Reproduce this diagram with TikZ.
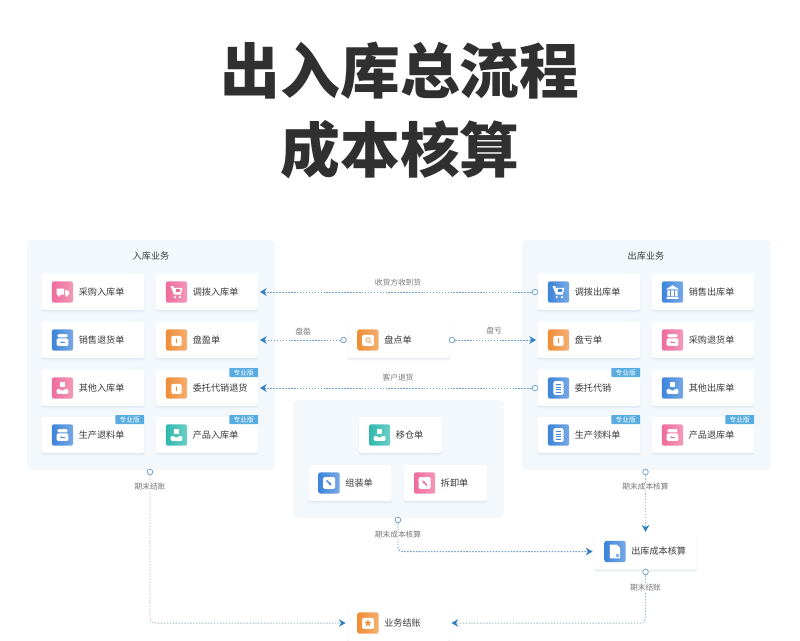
\documentclass[tikz,border=0pt]{standalone}
\usepackage{fontspec}
\setmainfont{Noto Sans CJK SC}
\usetikzlibrary{arrows.meta,shadows}
\definecolor{panelc}{HTML}{F3F8FD}
\definecolor{inkc}{HTML}{3A3A3A}
\definecolor{titlec}{HTML}{303030}
\definecolor{notec}{HTML}{777777}
\definecolor{shadowc}{HTML}{D3DEEB}
\definecolor{tagc}{HTML}{58ACDF}
\definecolor{tipc}{HTML}{2F7FC1}
\definecolor{flowc}{HTML}{6F9FC8}
\definecolor{flowd}{HTML}{A9BECB}
\definecolor{ringc}{HTML}{7FA8C9}
\definecolor{icpink}{HTML}{EE6C9A}
\definecolor{icblue}{HTML}{3D84DA}
\definecolor{icorange}{HTML}{F08D35}
\definecolor{icteal}{HTML}{2FB9AE}
\tikzset{
  panel/.style={rectangle,fill=panelc,rounded corners=.12cm,inner sep=0},
  card/.style={rectangle,fill=white,rounded corners=.06cm,inner sep=0,minimum width=2.56cm,minimum height=.9cm,
    drop shadow={shadow xshift=0pt,shadow yshift=-1.6pt,fill=shadowc,opacity=.3},
    drop shadow={shadow xshift=0pt,shadow yshift=-.8pt,fill=shadowc,opacity=.5}},
  cardsm/.style={card,minimum width=2.08cm},
  ico/.style={rectangle,rounded corners=.05cm,inner sep=0,minimum size=.53cm,left color=#1,right color=#1!70!white},
  txt/.style={inner sep=0,text=inkc,font=\fontsize{6.5}{8}\selectfont},
  note/.style={fill=white,inner sep=.5pt,text=notec,font=\fontsize{5.5}{7}\selectfont},
  protag/.style={rectangle,fill=tagc,rounded corners=.5pt,inner sep=0,minimum width=.72cm,minimum height=.225cm,text=white,font=\fontsize{4.8}{5}\selectfont},
  ring/.style={circle,draw=ringc,fill=white,line width=.6pt,inner sep=0,minimum size=.14cm},
  flow/.style={draw=flowc,line width=.7pt,dash pattern=on 1.1pt off 1pt,rounded corners=3pt,shorten >=1pt,
    -{Stealth[length=.17cm,width=.19cm,color=tipc]}},
  flowlt/.style={flow,draw=flowd},
  truck/.pic={\fill[white] (-7,-4) rectangle (2,3) (3,-2) -- (6,-2) -- (8,0) -- (8,3) -- (3,3) -- cycle;
    \fill[white] (-4,4) circle (1.6) (5,4) circle (1.6);},
  cart/.pic={\fill[white] (-7,-7) -- (-4,-7) -- (-3,-5) -- (7,-5) -- (5,3) -- (-3,3) -- cycle;
    \fill[white] (-2,6) circle (1.5) (4,6) circle (1.5);
    \fill[glc] (-1,-3) rectangle (4,0);},
  boxl/.pic={\fill[white,rounded corners=1pt] (-6,-7) rectangle (6,-3) (-7,-2) rectangle (7,7);
    \draw[glc,line width=.5pt,-{Stealth[length=.05cm]}] (3,2.5) -- (-3,2.5);},
  tray/.pic={\fill[white] (-3,-7) rectangle (3,-1);
    \fill[white,rounded corners=1pt] (-7,1) -- (-3,1) -- (-2,3) -- (2,3) -- (3,1) -- (7,1) -- (7,7) -- (-7,7) -- cycle;},
  bank/.pic={\fill[white] (-8,-3) -- (0,-8) -- (8,-3) -- cycle (-7,6) rectangle (7,8);
    \fill[white] (-6,-2) rectangle (-3,5) (-1.5,-2) rectangle (1.5,5) (3,-2) rectangle (6,5);},
  docs/.pic={\fill[white,rounded corners=1pt] (-6,-8) rectangle (6,8);
    \draw[glc,line width=.5pt] (-3,-4) -- (3,-4) (-3,-1) -- (3,-1) (-3,2) -- (3,2) (-3,5) -- (3,5);},
  page/.pic={\fill[white] (-6,-8) -- (2,-8) -- (6,-4) -- (6,8) -- (-6,8) -- cycle;
    \fill[glc!60!white] (1,3) rectangle (5,7);},
  packup/.pic={\fill[white,rounded corners=1pt] (-6,-5) rectangle (6,7);
    \draw[glc,line width=.5pt,-{Stealth[length=.05cm]}] (0,4) -- (0,-2);},
  packdn/.pic={\fill[white,rounded corners=1pt] (-6,-5) rectangle (6,7);
    \draw[glc,line width=.5pt,-{Stealth[length=.05cm]}] (0,-2) -- (0,4);},
  lens/.pic={\fill[white,rounded corners=1pt] (-7,-6) rectangle (7,7);
    \draw[glc!70!white,line width=.7pt] (0,0) circle (2.5) (2,2) -- (4,4);},
  starbox/.pic={\fill[white,rounded corners=1pt] (-7,-6) rectangle (7,7);
    \node[glc,inner sep=0,font=\fontsize{6}{6}\selectfont] (starmark) at (0,.5) {★};},
  arrse/.pic={\fill[white,rounded corners=1pt] (-7,-7) rectangle (7,7);
    \draw[glc,line width=1pt,-{Stealth[length=.08cm]}] (-3,-3) -- (3,3);},
  arrnw/.pic={\fill[white,rounded corners=1pt] (-7,-7) rectangle (7,7);
    \draw[glc,line width=1pt,-{Stealth[length=.08cm]}] (3,3) -- (-3,-3);},
}
\begin{document}
\begin{tikzpicture}[x=.025cm,y=-.025cm]
\useasboundingbox (0,0) rectangle (800,640);
% titulo
\draw (400,71) node[inner sep=0,text=titlec,font=\fontsize{42.5}{44}\selectfont\bfseries] (title) {出入库总流程};
\draw (400,150) node[inner sep=0,text=titlec,font=\fontsize{42.5}{44}\selectfont\bfseries] (subtitle) {成本核算};
% paneles
\draw (151,355) node[panel,minimum width=6.2cm,minimum height=5.75cm] (inpanel) {};
\draw (646.5,355) node[panel,minimum width=6.22cm,minimum height=5.75cm] (outpanel) {};
\draw (398.5,459) node[panel,minimum width=5.28cm,minimum height=2.95cm] (midpanel) {};
\draw (151,256) node[txt] (intitle) {入库业务};
\draw (646,256) node[txt] (outtitle) {出库业务};
% tarjetas
\foreach \nm/\cx/\cy/\st/\tx/\ic/\gl in {
  caigou/93/292/card/采购入库单/icpink/truck,
  diaoru/207/292/card/调拨入库单/icpink/cart,
  xiaotui/93/340/card/销售退货单/icblue/boxl,
  panying/207/340/card/盘盈单/icorange/packup,
  qitaru/93/388/card/其他入库单/icpink/tray,
  weitui/207/388/card/委托代销退货/icorange/packup,
  shengtui/93/435/card/生产退料单/icblue/boxl,
  chanru/207/435/card/产品入库单/icteal/tray,
  diaochu/589/292/card/调拨出库单/icblue/cart,
  xiaochu/703/292/card/销售出库单/icblue/bank,
  pankui/589/340/card/盘亏单/icorange/packdn,
  caitui/703/340/card/采购退货单/icpink/boxl,
  weituo/589/388/card/委托代销/icblue/docs,
  qitachu/703/388/card/其他出库单/icblue/tray,
  lingliao/589/435/card/生产领料单/icblue/docs,
  chantui/703/435/card/产品退库单/icpink/boxl,
  pandian/398.5/340/card/盘点单/icorange/lens,
  yicang/400.5/435/cardsm/移仓单/icteal/tray,
  zuzhuang/350/483/cardsm/组装单/icblue/arrse,
  chaixie/445.5/483/cardsm/拆卸单/icpink/arrnw,
  chengben/645.5/551.5/card/出库成本核算/icblue/page,
  jiezhang/398.5/623/card/业务结账/icorange/starbox}
{
  \colorlet{glc}{\ic}
  \draw (\cx,\cy) node[\st] (\nm) {};
  \draw (\nm.west) ++(21,0) node[ico=\ic] (\nm-i) {};
  \draw (\nm-i) pic[scale=.85] {\gl};
  \draw (\nm.west) ++(37,0) node[txt,anchor=west] (\nm-t) {\tx};
}
\foreach \nm in {weitui,shengtui,chanru,weituo,lingliao,chantui}
  \draw ([yshift=.05cm]\nm.north east) node[protag,anchor=north east] (\nm-tag) {专业版};
% conectores
\draw (535,292) node[ring] (r1) {};
\draw (535,388) node[ring] (r2) {};
\draw (343.5,340) node[ring] (r3) {};
\draw (452,340) node[ring] (r4) {};
\draw (150,472) node[ring] (r5) {};
\draw (645.5,472) node[ring] (r6) {};
\draw (398,520) node[ring] (r7) {};
\draw (645.5,572) node[ring] (r8) {};
\draw[flow] (r1) -- (diaoru);
\draw[flow] (r2) -- (weitui);
\draw[flow] (r3) -- (panying);
\draw[flow] (r4) -- (pankui);
\draw[flowlt] (r5) |- (jiezhang);
\draw[flowlt] (r6) -- (chengben);
\draw[flow] (r7) |- (chengben);
\draw[flowlt] (r8) |- (jiezhang);
\draw (398,283) node[note] (n1) {收货方收到货};
\draw (303,331) node[note] (n2) {盘盈};
\draw (494,331) node[note] (n3) {盘亏};
\draw (398,378) node[note] (n4) {客户退货};
\draw (150,487) node[note] (n5) {期末结账};
\draw (645.5,487) node[note] (n6) {期末成本核算};
\draw (398,535) node[note] (n7) {期末成本核算};
\draw (645.5,588) node[note] (n8) {期末结账};
\end{tikzpicture}
\end{document}
